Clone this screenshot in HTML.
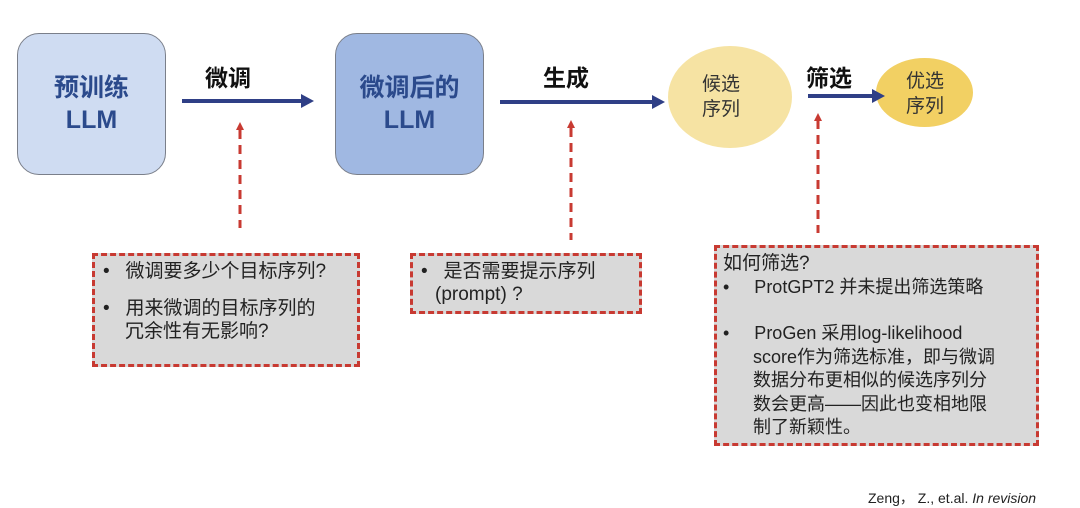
<!DOCTYPE html>
<html><head><meta charset="utf-8"><style>
body{margin:0;width:1080px;height:508px;background:#fff;position:relative;overflow:hidden;font-family:"Liberation Sans","Noto Sans CJK SC",sans-serif}
.a{position:absolute}
.box{position:absolute;border:1.5px solid #7a7f8a;border-radius:22px;color:#2b4a8c;font-weight:bold;font-size:25px;text-align:center;line-height:32px;display:flex;align-items:center;justify-content:center}
.q{position:absolute;background:#d9d9d9;border:3px dashed #c83a32;box-sizing:border-box;font-size:19px;color:#222;line-height:23px}
.lbl{position:absolute;font-weight:bold;font-size:23px;color:#111}
</style></head><body>
<div class="box" style="left:17px;top:33px;width:147px;height:140px;background:#cfdcf2">预训练<br>LLM</div>
<div class="box" style="left:335px;top:33px;width:147px;height:140px;background:#a0b8e2">微调后的<br>LLM</div>
<div class="a" style="left:668px;top:46px;width:124px;height:102px;border-radius:50%;background:#f6e3a3"></div>
<div class="a" style="left:876px;top:58px;width:97px;height:69px;border-radius:50%;background:#f2d063"></div>
<div class="a" style="left:702px;top:72px;font-size:19px;line-height:25px;color:#333">候选<br>序列</div>
<div class="a" style="left:906px;top:69px;font-size:19px;line-height:25px;color:#333">优选<br>序列</div>
<div class="lbl" style="left:205px;top:59px">微调</div>
<div class="lbl" style="left:543px;top:59px">生成</div>
<div class="lbl" style="left:806px;top:59px">筛选</div>
<svg class="a" style="left:0;top:0" width="1080" height="508">
<g stroke="#2f3f86" stroke-width="4" fill="#2f3f86">
<line x1="182" y1="101" x2="302" y2="101"/><polygon points="301,94 314,101 301,108" stroke="none"/>
<line x1="500" y1="102" x2="654" y2="102"/><polygon points="652,95 665,102 652,109" stroke="none"/>
<line x1="808" y1="96" x2="874" y2="96"/><polygon points="872,89 885,96 872,103" stroke="none"/>
</g>
<g stroke="#c83a32" stroke-width="3" stroke-dasharray="9,6" fill="none">
<line x1="240" y1="130" x2="240" y2="228"/>
<line x1="571" y1="128" x2="571" y2="240"/>
<line x1="818" y1="120" x2="818" y2="233"/>
</g>
<g fill="#c83a32">
<polygon points="236,130 240,122 244,130"/>
<polygon points="567,128 571,120 575,128"/>
<polygon points="814,121 818,113 822,121"/>
</g>
</svg>
<div class="q" style="left:92px;top:253px;width:268px;height:114px;padding:4px 0 0 8px">
<div>•&nbsp;&nbsp;&nbsp;微调要多少个目标序列?</div>
<div style="height:14px"></div>
<div style="padding-left:22px;text-indent:-22px">•&nbsp;&nbsp;&nbsp;用来微调的目标序列的<br>冗余性有无影响?</div>
</div>
<div class="q" style="left:410px;top:253px;width:232px;height:61px;padding:4px 0 0 8px">
<div>•&nbsp;&nbsp;&nbsp;是否需要提示序列</div>
<div style="padding-left:14px">(prompt) ?</div>
</div>
<div class="q" style="left:714px;top:245px;width:325px;height:201px;padding:4px 0 0 6px;line-height:23.5px">
<div style="font-size:19px">如何筛选?</div>
<div style="font-size:18px">•&nbsp;&nbsp;&nbsp;&nbsp;&nbsp;ProtGPT2 并未提出筛选策略</div>
<div style="height:23px"></div>
<div style="font-size:18px;padding-left:30px;text-indent:-30px">•&nbsp;&nbsp;&nbsp;&nbsp;&nbsp;ProGen 采用log-likelihood<br>score作为筛选标准，即与微调<br>数据分布更相似的候选序列分<br>数会更高——因此也变相地限<br>制了新颖性。</div>
</div>
<div class="a" style="left:868px;top:488px;font-size:14px;color:#222">Zeng， Z., et.al. <i>In revision</i></div>
</body></html>
